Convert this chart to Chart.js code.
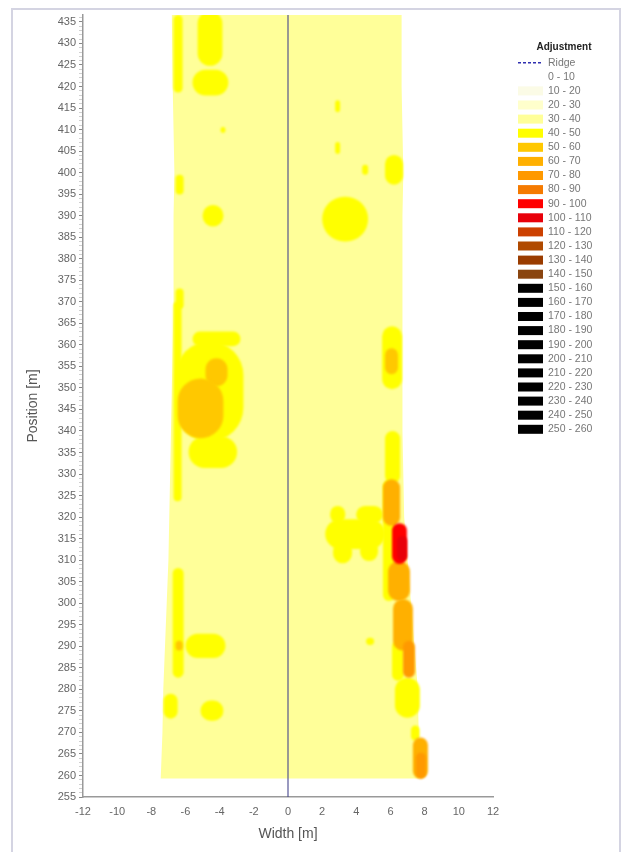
<!DOCTYPE html>
<html>
<head>
<meta charset="utf-8">
<script src="https://cdn.jsdelivr.net/npm/chart.js@4.4.0/dist/chart.umd.min.js"></script>
<style>
  html, body { margin: 0; padding: 0; background: #fff; }
  #wrap { position: relative; width: 625px; height: 852px; overflow: hidden; }
  #frame { position: absolute; left: 11px; top: 8px; width: 606px; height: 900px; border: 2px solid #d4d4e2; }
  canvas { position: absolute; left: 0; top: 0; }
</style>
</head>
<body>
<div id="wrap">
  <div id="frame"></div>
  <canvas id="chart" width="625" height="852"></canvas>
</div>
<script>
// axis ticks
const widthTicks = [-12, -10, -8, -6, -4, -2, 0, 2, 4, 6, 8, 10, 12];
const positionTicks = [255, 260, 265, 270, 275, 280, 285, 290, 295, 300, 305, 310, 315, 320, 325, 330,
  335, 340, 345, 350, 355, 360, 365, 370, 375, 380, 385, 390, 395, 400, 405, 410, 415, 420, 425, 430, 435];

// adjustment classes (legend)
const legendTitle = 'Adjustment';
const classLabels = ['0 - 10', '10 - 20', '20 - 30', '30 - 40', '40 - 50', '50 - 60', '60 - 70', '70 - 80',
  '80 - 90', '90 - 100', '100 - 110', '110 - 120', '120 - 130', '130 - 140', '140 - 150', '150 - 160',
  '160 - 170', '170 - 180', '180 - 190', '190 - 200', '200 - 210', '210 - 220', '220 - 230', '230 - 240',
  '240 - 250', '250 - 260'];
const classColors = ['#ffffff', '#fbfbe6', '#ffffcc', '#ffff99', '#ffff00', '#ffc800', '#ffb000', '#ff9900',
  '#f57a00', '#ff0000', '#e8000a', '#cc4000', '#b04a00', '#9a3c00', '#8a4510', '#000000',
  '#000000', '#000000', '#000000', '#000000', '#000000', '#000000', '#000000', '#000000',
  '#000000', '#000000'];

// ridge line
const ridgeWidth = [0, 0];
const ridgePos = [255, 436.6];

// surveyed strip: outline (class 30-40 as base)
const roadClass = 3;
const roadPos = [259.3, 270, 280, 290, 300, 310, 320, 330, 340, 350, 360, 370, 380, 390, 400, 410, 420, 436.6];
const roadLeft = [-7.45, -7.35, -7.3, -7.2, -7.1, -7.0, -6.95, -6.9, -6.85, -6.8, -6.75, -6.7, -6.7, -6.7, -6.65, -6.7, -6.75, -6.8];
const roadRight = [7.65, 7.65, 7.6, 7.4, 7.2, 7.0, 6.8, 6.75, 6.7, 6.7, 6.7, 6.7, 6.7, 6.7, 6.75, 6.7, 6.65, 6.65];

// higher adjustment zones: width range, position range, class index
const patchW0 = [-6.70, -5.29, -5.59, -3.95, -6.58, -5.00, -6.58, -5.59, -6.58, -5.82, -6.70, -4.83, -6.46,
  -6.75, -6.58, -6.00, -7.28, -5.12,
  2.76, 2.76, 5.68, 4.34, 2.00, 5.51, 5.68, 5.68, 5.56, 5.56, 2.47, 3.99, 2.18, 2.64, 4.22, 6.09, 6.38,
  5.86, 6.15, 6.73, 6.09, 6.26, 4.57, 7.31, 7.49, 7.20];
const patchW1 = [-6.17, -3.84, -3.49, -3.66, -6.11, -3.78, -6.11, -2.78, -2.61, -2.98, -6.23, -3.54, -3.78,
  -6.11, -6.17, -3.66, -6.46, -3.78,
  3.05, 3.05, 6.73, 4.69, 4.69, 6.67, 6.44, 6.56, 6.26, 6.56, 3.35, 5.56, 5.68, 3.75, 5.27, 6.96, 6.96,
  7.14, 7.31, 7.43, 6.79, 7.72, 5.04, 8.19, 8.07, 7.70];
const patchP0 = [418.6, 424.8, 417.9, 409.2, 394.9, 387.5, 368.4, 359.7, 337.6, 331.4, 323.7, 350.4, 338.3,
  282.7, 289.0, 287.3, 273.2, 272.7,
  414.0, 404.3, 397.2, 399.5, 384.0, 349.7, 353.2, 327.8, 300.5, 318.0, 318.6, 318.6, 312.6, 309.3, 309.8,
  309.1, 309.8, 300.5, 289.0, 282.7, 282.0, 273.4, 290.3, 259.3, 259.3, 268.1];
const patchP1 = [436.6, 437.5, 423.9, 410.6, 399.5, 392.5, 373.1, 363.1, 360.8, 338.8, 370.0, 356.9, 352.2,
  308.2, 291.3, 292.9, 279.0, 277.4,
  416.8, 407.1, 404.1, 401.8, 394.4, 364.3, 359.2, 340.0, 328.7, 328.8, 322.6, 322.6, 319.5, 314.4, 314.4,
  318.6, 315.6, 309.8, 301.0, 291.3, 291.3, 282.7, 292.0, 268.8, 265.3, 271.6];
const patchClass = [4, 4, 4, 4, 4, 4, 4, 4, 4, 4, 4, 5, 5,
  4, 5, 4, 4, 4,
  4, 4, 4, 4, 4, 4, 5, 4, 4, 6, 4, 4, 4, 4, 4, 9, 10,
  6, 6, 7, 4, 4, 4, 6, 7, 4];

const FONT = 'Liberation Sans';

// 調整量の面（帯と高調整域）を軸スケール経由で塗る
const heatPlugin = {
  id: 'heat',
  beforeDatasetsDraw(chart) {
    const { ctx, chartArea, scales } = chart;
    const x = scales.x;
    const y = scales.y;
    ctx.save();
    ctx.beginPath();
    ctx.rect(chartArea.left, chartArea.top, chartArea.width, chartArea.height);
    ctx.clip();

    ctx.beginPath();
    roadPos.forEach((p, i) => {
      const px = x.getPixelForValue(roadLeft[i]);
      const py = y.getPixelForValue(p);
      if (i === 0) ctx.moveTo(px, py); else ctx.lineTo(px, py);
    });
    for (let i = roadPos.length - 1; i >= 0; i--) {
      ctx.lineTo(x.getPixelForValue(roadRight[i]), y.getPixelForValue(roadPos[i]));
    }
    ctx.closePath();
    ctx.fillStyle = classColors[roadClass];
    ctx.fill();

    // low classes first so that hotter zones sit on top; slight blur like the contoured original
    ctx.filter = 'blur(0.8px)';
    const order = patchClass.map((c, i) => i).sort((a, b) => patchClass[a] - patchClass[b]);
    order.forEach((i) => {
      const x0 = x.getPixelForValue(patchW0[i]);
      const x1 = x.getPixelForValue(patchW1[i]);
      const y0 = y.getPixelForValue(patchP1[i]);
      const y1 = y.getPixelForValue(patchP0[i]);
      const w = x1 - x0;
      const h = y1 - y0;
      const r = Math.min(w, h) * 0.5;
      ctx.beginPath();
      if (ctx.roundRect) ctx.roundRect(x0, y0, w, h, r); else ctx.rect(x0, y0, w, h);
      ctx.fillStyle = classColors[patchClass[i]];
      ctx.fill();
    });
    ctx.filter = 'none';
    ctx.restore();
  },
};

// 凡例は右側に縦一列で描く
const legendPlugin = {
  id: 'classLegend',
  afterDraw(chart) {
    const ctx = chart.ctx;
    const rowH = 14.1;
    const top = 62.7;
    ctx.save();
    ctx.textBaseline = 'middle';
    ctx.textAlign = 'center';
    ctx.font = `bold 10px "${FONT}"`;
    ctx.fillStyle = '#222';
    ctx.fillText(legendTitle, 564, 47);

    ctx.textAlign = 'left';
    ctx.font = `10.5px "${FONT}"`;
    ctx.strokeStyle = '#3030b0';
    ctx.lineWidth = 1.5;
    ctx.setLineDash([3, 2]);
    ctx.beginPath();
    ctx.moveTo(518, top);
    ctx.lineTo(543, top);
    ctx.stroke();
    ctx.setLineDash([]);
    ctx.fillStyle = '#777';
    ctx.fillText('Ridge', 548, top);

    classLabels.forEach((label, i) => {
      const yy = top + (i + 1) * rowH;
      ctx.fillStyle = classColors[i];
      ctx.fillRect(518, yy - 4.5, 25, 9);
      ctx.fillStyle = '#777';
      ctx.fillText(label, 548, yy);
    });
    ctx.restore();
  },
};

const minorPos = [];
for (let v = positionTicks[0]; v <= 436; v++) minorPos.push(v);

new Chart(document.getElementById('chart'), {
  type: 'scatter',
  data: {
    datasets: [
      {
        label: 'Ridge',
        data: ridgeWidth.map((w, i) => ({ x: w, y: ridgePos[i] })),
        showLine: true,
        borderColor: 'rgba(70, 70, 140, 0.55)',
        borderWidth: 2,
        pointRadius: 0,
      },
    ],
  },
  options: {
    responsive: false,
    animation: false,
    layout: { padding: { top: 15, right: 132, left: 0, bottom: 0 } },
    plugins: {
      legend: { display: false },
      tooltip: { enabled: false },
    },
    scales: {
      x: {
        type: 'linear',
        min: -12,
        max: 12,
        afterBuildTicks: (s) => { s.ticks = widthTicks.map((v) => ({ value: v })); },
        afterFit: (s) => { s.height = 55; },
        grid: { display: true, drawOnChartArea: false, drawTicks: false },
        border: { color: '#999', width: 1.5 },
        ticks: { padding: 8, color: '#666', font: { family: FONT, size: 11 } },
        title: {
          display: true,
          text: 'Width [m]',
          color: '#555',
          font: { family: FONT, size: 14 },
          padding: { top: 4, bottom: 9 },
        },
      },
      y: {
        type: 'linear',
        min: 255,
        max: 436.6,
        afterBuildTicks: (s) => { s.ticks = minorPos.map((v) => ({ value: v })); },
        afterFit: (s) => { s.width = 83; },
        grid: {
          display: true,
          drawOnChartArea: false,
          drawTicks: true,
          tickLength: 4,
          color: (c) => (c.tick && positionTicks.includes(c.tick.value) ? '#888' : '#d0d0d0'),
        },
        border: { color: '#999', width: 1.5 },
        ticks: {
          autoSkip: false,
          padding: 3,
          color: '#666',
          font: { family: FONT, size: 11 },
          callback: (v) => (positionTicks.includes(v) ? String(v) : ''),
        },
        title: {
          display: true,
          text: 'Position [m]',
          color: '#555',
          font: { family: FONT, size: 14 },
          padding: { top: 25, bottom: 4 },
        },
      },
    },
  },
  plugins: [heatPlugin, legendPlugin],
});
</script>
</body>
</html>
